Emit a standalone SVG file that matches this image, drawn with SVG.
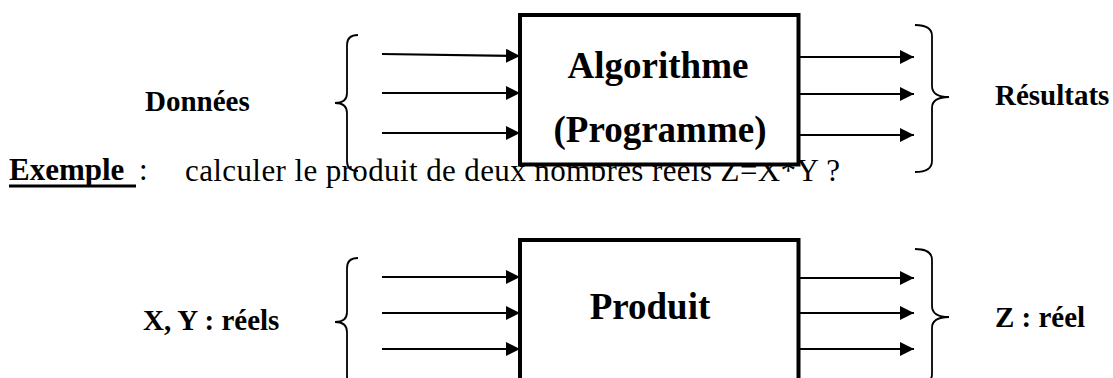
<svg xmlns="http://www.w3.org/2000/svg" width="1113" height="378" viewBox="0 0 1113 378">
  <style>
    text { fill: #000; font-family: "Liberation Serif", "Times New Roman", serif; }
    .lbl { font-weight: bold; font-size: 29px; }
    .big { font-weight: bold; font-size: 37px; text-anchor: middle; }
    .txt { font-size: 31px; }
    .box { fill: #fff; stroke: #000; stroke-width: 4; }
    .arrow { stroke: #000; stroke-width: 2.2; fill: none; marker-end: url(#head); }
    .brace { stroke: #000; stroke-width: 1.8; fill: none; }
  </style>
  <defs>
    <marker id="head" markerUnits="userSpaceOnUse" markerWidth="15" markerHeight="15" refX="14" refY="7" orient="auto">
      <path d="M0,0 L14,7 L0,14 Z" fill="#000"/>
    </marker>
  </defs>
  <rect width="1113" height="378" fill="#fff"/>

  <!-- example sentence (partly hidden behind the top block) -->
  <g id="example">
    <text class="txt" x="9" y="180" font-weight="bold">Exemple</text>
    <rect x="9" y="184.5" width="127" height="3" fill="#000"/>
    <text class="txt" x="139" y="180">:</text>
    <text class="txt" x="185" y="181" textLength="655" lengthAdjust="spacing">calculer le produit de deux nombres réels Z=X*Y ?</text>
  </g>

  <!-- top: general algorithm block -->
  <g id="algorithme">
    <rect class="box" x="520" y="15" width="278.5" height="149.5"/>
    <text class="big" x="658" y="78">Algorithme</text>
    <text class="big" x="660" y="142">(Programme)</text>
  </g>
  <g id="donnees">
    <text class="lbl" x="145" y="111">Données</text>
    <path class="brace" d="M358,35 Q347,35 347,45 L347,93 Q347,103 335,103 Q347,103 347,113 L347,161 Q347,171 358,171"/>
  </g>
  <g id="resultats">
    <text class="lbl" x="995" y="105">Résultats</text>
    <path class="brace" d="M915,25 Q932,25 932,36 L932,86 Q932,97 949,97 Q932,97 932,108 L932,161 Q932,172 915,172"/>
  </g>

  <!-- bottom: product example block -->
  <g id="produit">
    <rect class="box" x="520" y="240" width="278.5" height="160"/>
    <text class="big" x="650" y="319">Produit</text>
  </g>
  <g id="xy">
    <text class="lbl" x="143" y="330">X, Y : réels</text>
    <path class="brace" d="M358,258 Q347,258 347,268 L347,312 Q347,322 335,322 Q347,322 347,332 L347,376 Q347,386 358,386"/>
  </g>
  <g id="z">
    <text class="lbl" x="995" y="327">Z : réel</text>
    <path class="brace" d="M915,249 Q932,249 932,260 L932,306 Q932,317 949,317 Q932,317 932,328 L932,374 Q932,385 915,385"/>
  </g>

  <!-- connectors -->
  <g id="connectors">
    <line class="arrow" x1="382" y1="54" x2="520" y2="56"/>
    <line class="arrow" x1="382" y1="93" x2="520" y2="93"/>
    <line class="arrow" x1="382" y1="133" x2="520" y2="133"/>
    <line class="arrow" x1="800" y1="57" x2="914" y2="57"/>
    <line class="arrow" x1="800" y1="94" x2="914" y2="94"/>
    <line class="arrow" x1="800" y1="135" x2="914" y2="135"/>

    <line class="arrow" x1="382" y1="277" x2="520" y2="277"/>
    <line class="arrow" x1="382" y1="313" x2="520" y2="313"/>
    <line class="arrow" x1="382" y1="349" x2="520" y2="349"/>
    <line class="arrow" x1="800" y1="278" x2="914" y2="278"/>
    <line class="arrow" x1="800" y1="313" x2="914" y2="313"/>
    <line class="arrow" x1="800" y1="349" x2="914" y2="349"/>
  </g>
</svg>
